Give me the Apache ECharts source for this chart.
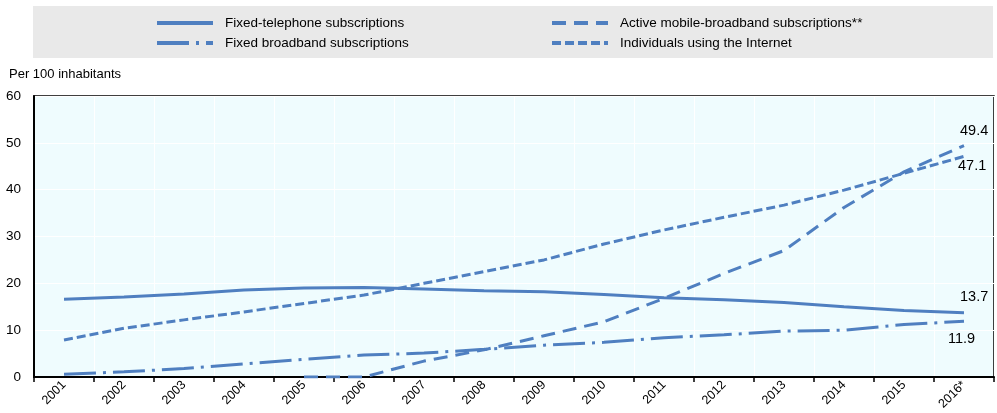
<!DOCTYPE html>
<html>
<head>
<meta charset="utf-8">
<script src="https://cdn.jsdelivr.net/npm/echarts@6/dist/echarts.min.js"></script>
<style>
  html, body { margin: 0; padding: 0; background: #fff; }
  #chart { width: 997px; height: 413px; }
</style>
</head>
<body>
<div id="chart"></div>
<script>
const years = ['2001', '2002', '2003', '2004', '2005', '2006', '2007', '2008',
  '2009', '2010', '2011', '2012', '2013', '2014', '2015', '2016*']
const fixedTelephone = [16.6, 17.1, 17.7, 18.6, 19.0, 19.1, 18.8, 18.4, 18.2, 17.6, 16.9, 16.5, 15.9, 15.0, 14.2, 13.7]
const fixedBroadband = [0.6, 1.1, 1.8, 2.8, 3.8, 4.7, 5.1, 5.9, 6.8, 7.4, 8.4, 9.0, 9.8, 10.0, 11.2, 11.9]
const mobileBroadband = [null, null, null, null, 0, 0, 3.4, 5.8, 8.8, 11.8, 16.8, 22.1, 27.0, 36.2, 43.8, 49.4]
const internetUsers = [7.9, 10.4, 12.2, 13.9, 15.7, 17.5, 20.0, 22.5, 25.0, 28.4, 31.4, 34.1, 36.7, 39.9, 43.5, 47.1]

const FONT = '"Liberation Sans", Arial, sans-serif'
const BLUE = '#4f7fc0'

const chart = echarts.init(document.getElementById('chart'))

function lineSeries(name, data, type, labelOffset) {
  return {
    name: name,
    type: 'line',
    data: data,
    symbol: 'none',
    lineStyle: { color: BLUE, width: 3, type: type },
    itemStyle: { color: BLUE },
    endLabel: {
      show: true,
      formatter: '{c}',
      fontFamily: FONT,
      fontSize: 14.5,
      color: '#000',
      offset: labelOffset
    },
    animation: false
  }
}

// legend: line only, hide the marker dot
const legendBase = {
  top: 16, padding: 0,
  orient: 'vertical',
  itemWidth: 56, itemHeight: 14, itemGap: 6,
  itemStyle: { opacity: 0 },
  lineStyle: { width: 4 },
  textStyle: { fontFamily: FONT, fontSize: 13.5, color: '#000', padding: [0, 0, 0, 7] }
}

chart.setOption({
  graphic: [{
    type: 'rect',
    left: 33, top: 6,
    shape: { width: 960, height: 52 },
    style: { fill: '#e9e9e9' },
    z: -1
  }],
  title: {
    text: 'Per 100 inhabitants',
    left: 9, top: 68, padding: 0,
    textStyle: { fontFamily: FONT, fontSize: 13, fontWeight: 'normal', color: '#000' }
  },
  legend: [
    Object.assign({ left: 155, data: ['Fixed-telephone subscriptions', 'Fixed broadband subscriptions'] }, legendBase),
    Object.assign({ left: 550, data: ['Active mobile-broadband subscriptions**', 'Individuals using the Internet'] }, legendBase)
  ],
  grid: {
    left: 34, right: 3, top: 96, bottom: 36,
    show: true,
    backgroundColor: '#effcfe',
    borderColor: '#000',
    borderWidth: 1.5
  },
  xAxis: {
    type: 'category',
    data: years,
    boundaryGap: true,
    axisLine: { lineStyle: { color: '#000', width: 2 } },
    axisTick: { show: true, length: 5, lineStyle: { color: '#000', width: 1.5 } },
    splitLine: { show: true, lineStyle: { color: '#fff', width: 1 } },
    axisLabel: { rotate: 45, fontFamily: FONT, fontSize: 12.5, color: '#000', margin: 6, interval: 0 }
  },
  yAxis: {
    type: 'value',
    min: 0, max: 60, interval: 10,
    axisLine: { show: true, lineStyle: { color: '#000', width: 2 } },
    axisTick: { show: false },
    splitLine: { lineStyle: { color: '#fff', width: 1 } },
    axisLabel: { fontFamily: FONT, fontSize: 13.5, color: '#000', margin: 13 }
  },
  series: [
    lineSeries('Fixed-telephone subscriptions', fixedTelephone, 'solid', [-12, -16]),
    lineSeries('Fixed broadband subscriptions', fixedBroadband, [32, 7, 3, 7], [-24, 18]),
    lineSeries('Active mobile-broadband subscriptions**', mobileBroadband, [14, 8], [-12, -15]),
    lineSeries('Individuals using the Internet', internetUsers, [9, 4], [-14, 10])
  ]
})
</script>
</body>
</html>
